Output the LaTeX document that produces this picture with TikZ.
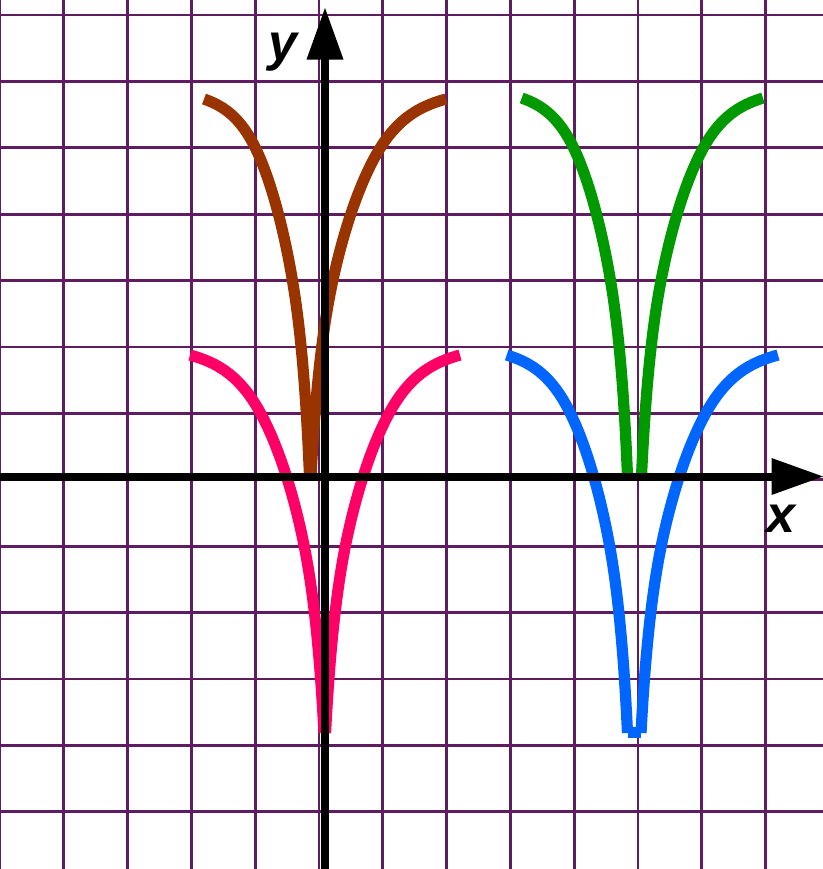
\documentclass[tikz,border=0pt]{standalone}
\usepackage{fontspec}
\setmainfont{Liberation Sans}
\definecolor{gridc}{RGB}{96,28,96}
\definecolor{cbrown}{RGB}{153,51,0}
\definecolor{cpink}{RGB}{255,0,102}
\definecolor{cgreen}{RGB}{0,153,0}
\definecolor{cblue}{RGB}{0,102,255}
\tikzset{
  gridline/.style={draw=gridc,line width=1.4pt},
  curve/.style={line width=5.6pt,line cap=butt},
  axisline/.style={draw=black,line width=4.4pt},
  axislabel/.style={inner sep=0pt,font=\bfseries\itshape\fontsize{26}{26}\selectfont}
}
\newcommand\drawbranch[5]{%
  \pgfmathsetmacro\bsx{#4-#2}%
  \pgfmathsetmacro\bsy{#5-#3}%
  \begin{scope}[shift={(#2,#3)},xscale=\bsx,yscale=\bsy]
    \draw[curve,#1] (0,0) .. controls (0.16,0.016) and (0.318,0.041) .. (0.46,0.115)
      .. controls (0.62,0.198) and (0.762,0.346) .. (0.851,0.503)
      .. controls (0.935,0.651) and (0.975,0.832) .. (1,1);
  \end{scope}}
\begin{document}
\begin{tikzpicture}[x=0.5pt,y=-0.5pt]
\useasboundingbox (0,0) rectangle (823,869);
\fill[white] (0,0) rectangle (823,869);
% grid
\foreach \k in {0,...,12} {
  \draw[gridline] ({63.8*\k},0) -- ({63.8*\k},869);
  \draw[gridline] (0,{15+66.4*\k}) -- (823,{15+66.4*\k});
}
% curves
\drawbranch{cbrown}{204}{99}{309.5}{476}
\drawbranch{cbrown}{446}{99}{311}{476}
\drawbranch{cpink}{190}{355}{324}{733}
\drawbranch{cpink}{460}{355}{325.5}{733}
\drawbranch{cgreen}{521.7}{98}{627.5}{476}
\drawbranch{cgreen}{763}{98}{641.5}{476}
\drawbranch{cblue}{506.7}{355}{627.5}{733}
\drawbranch{cblue}{778}{355}{641}{733}
\fill[cblue] (628,727) rectangle (641,738);
% axes
\coordinate (xs) at (0,477);
\coordinate (xe) at (772,477);
\coordinate (ys) at (325,869);
\coordinate (ye) at (325,59);
\draw[axisline] (xs) -- (xe);
\draw[axisline] (ys) -- (ye);
\fill[black] (771.5,458) -- (823,476.5) -- (771.5,495) -- cycle;
\fill[black] (306.5,59.5) -- (325,8) -- (343.5,59.5) -- cycle;
% labels
\node[axislabel] (ylab) at (282.5,52.5) {y};
\node[axislabel] (xlab) at (781,518.5) {x};
\end{tikzpicture}
\end{document}
